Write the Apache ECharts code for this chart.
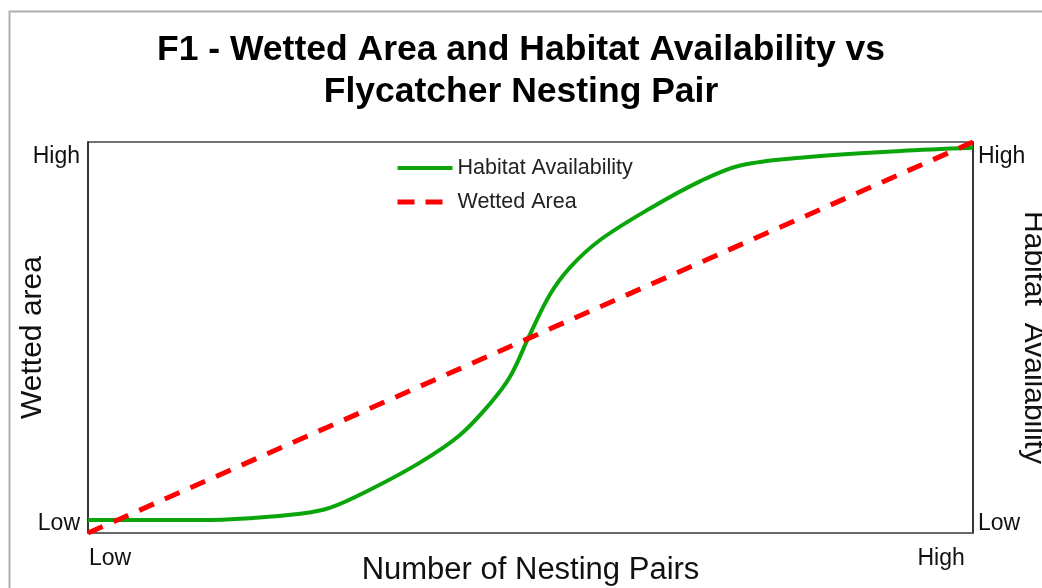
<!DOCTYPE html>
<html>
<head>
<meta charset="utf-8">
<script src="https://cdn.jsdelivr.net/npm/echarts@6/dist/echarts.min.js"></script>
<style>
html,body{margin:0;padding:0;background:#fff;}
#chart{width:1042px;height:588px;}
</style>
</head>
<body>
<div id="chart"></div>
<script>
// Data
var titleText = 'F1 - Wetted Area and Habitat Availability vs\nFlycatcher Nesting Pair';
var seriesNames = ['Habitat Availability', 'Wetted Area'];
var habitatX = [0, 12.7, 18.3, 24, 27.3, 31.8, 37.5, 42, 45.4, 47.7, 49.9, 52.2, 54.5, 57.9, 63.5, 69.2, 73.7, 80.5, 91.8, 100];
var habitatY = [3.3, 3.3, 3.8, 4.9, 6.4, 11, 18, 25, 33, 40, 50.6, 61, 68, 75, 83, 90, 94, 96, 97.7, 98.5];
var wettedX = [0, 100];
var wettedY = [0, 100];
var xTickValues = [2.5, 96.4];
var xTickLabels = ['Low', 'High'];
var yTickValues = [2.3, 96.2];
var yTickLabels = ['Low', 'High'];
var xAxisName = 'Number of Nesting Pairs';
var yLeftName = 'Wetted area';
var yRightName = 'Habitat  Availability';

function pairs(xs, ys) { return xs.map(function (x, i) { return [x, ys[i]]; }); }
function fmt(vals, labels) {
  return function (v) {
    for (var i = 0; i < vals.length; i++) if (Math.abs(vals[i] - v) < 1e-6) return labels[i];
    return '';
  };
}

var FONT = '"Liberation Sans", Arial, sans-serif';
var GREEN = '#0aa50a', RED = '#ff0000';
var chart = echarts.init(document.getElementById('chart'), null, {renderer: 'canvas'});
var yAxisCommon = {
  type: 'value', min: 0, max: 100,
  splitLine: {show: false},
  axisTick: {show: false},
  axisLine: {show: true, lineStyle: {color: '#222', width: 1.5}},
  axisLabel: {customValues: yTickValues, formatter: fmt(yTickValues, yTickLabels), color: '#111', fontSize: 23, fontFamily: FONT},
  nameLocation: 'middle',
  nameMoveOverlap: false,
  nameTextStyle: {fontSize: 30, color: '#111', fontFamily: FONT}
};
var option = {
  backgroundColor: '#fff',
  animation: false,
  textStyle: {fontFamily: FONT},
  graphic: [{
    type: 'rect', left: 7, top: 9, silent: true,
    shape: {width: 1200, height: 700},
    style: {fill: 'none', stroke: '#b0b0b0', lineWidth: 2}
  }],
  title: {
    text: titleText, left: 'center', top: 24,
    textStyle: {fontSize: 35.5, fontWeight: 'bold', color: '#000', lineHeight: 42, fontFamily: FONT}
  },
  legend: {
    orient: 'vertical', left: 390, top: 152, itemWidth: 55, itemHeight: 14, itemGap: 12,
    textStyle: {fontSize: 21.5, color: '#222', fontFamily: FONT},
    itemStyle: {opacity: 0},
    data: [
      {name: seriesNames[0], lineStyle: {color: GREEN, width: 4, type: 'solid'}},
      {name: seriesNames[1], lineStyle: {color: RED, width: 5, type: [17, 11]}}
    ]
  },
  grid: {left: 88, right: 69, top: 142, bottom: 55, containLabel: false, outerBoundsMode: 'none',
    show: true, borderColor: '#444', borderWidth: 1.5, backgroundColor: 'transparent'},
  xAxis: {
    type: 'value', min: 0, max: 100,
    splitLine: {show: false}, axisTick: {show: false},
    axisLine: {show: true, lineStyle: {color: '#666', width: 1.5}},
    axisLabel: {customValues: xTickValues, formatter: fmt(xTickValues, xTickLabels), color: '#111', fontSize: 23, margin: 14, fontFamily: FONT},
    name: xAxisName, nameLocation: 'middle', nameGap: 22, nameMoveOverlap: false,
    nameTextStyle: {fontSize: 31, color: '#111', fontFamily: FONT}
  },
  yAxis: [
    Object.assign({}, yAxisCommon, {position: 'left', name: yLeftName, nameGap: 40, nameRotate: 90,
      axisLabel: Object.assign({}, yAxisCommon.axisLabel, {margin: 8})}),
    Object.assign({}, yAxisCommon, {position: 'right', name: yRightName, nameGap: 45, nameRotate: -90,
      axisLabel: Object.assign({}, yAxisCommon.axisLabel, {margin: 5})})
  ],
  series: [
    {
      name: seriesNames[0], type: 'line', yAxisIndex: 0, data: pairs(habitatX, habitatY),
      smooth: 0.35, symbol: 'none', clip: false,
      lineStyle: {color: GREEN, width: 4},
      itemStyle: {color: GREEN}
    },
    {
      name: seriesNames[1], type: 'line', yAxisIndex: 0, data: pairs(wettedX, wettedY),
      symbol: 'none', clip: false,
      lineStyle: {color: RED, width: 5, type: [16, 12]},
      itemStyle: {color: RED}
    }
  ]
};
chart.setOption(option);
</script>
</body>
</html>
